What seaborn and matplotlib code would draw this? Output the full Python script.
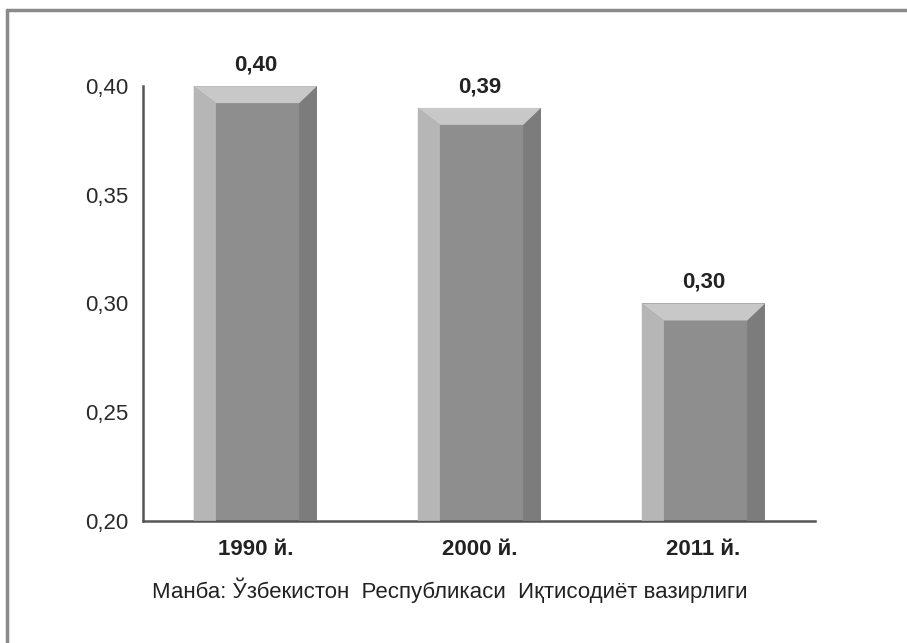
import matplotlib
matplotlib.use("Agg")
import matplotlib.pyplot as plt
import seaborn as sns
import pandas as pd
from matplotlib.patches import Polygon
from matplotlib.lines import Line2D
from matplotlib.ticker import FuncFormatter

years = ["1990 й.", "2000 й.", "2011 й."]
values = [0.40, 0.39, 0.30]
value_labels = ["0,40", "0,39", "0,30"]
yticks = [0.20, 0.25, 0.30, 0.35, 0.40]
source = "Манба: Ўзбекистон  Республикаси  Иқтисодиёт вазирлиги"

sns.set_style("white")
plt.rcParams["font.family"] = ["Liberation Sans", "DejaVu Sans"]

df = pd.DataFrame({"year": years, "value": values})

fig = plt.figure(figsize=(9.07, 6.43), dpi=100)
ax = fig.add_axes([0.158, 0.190, 0.741, 0.676])

sns.barplot(data=df, x="year", y="value", color="#8e8e8e", width=0.55,
            saturation=1, ax=ax, linewidth=0)

ax.set_ylim(0.20, 0.40)
ax.set_xlim(-0.5, 2.5)

# bevel edges drawn from each bar's own geometry
for bar, lab in zip(ax.patches, value_labels):
    x0, w = bar.get_x(), bar.get_width()
    y0, y1 = 0.20, bar.get_y() + bar.get_height()
    dx = w * 0.18
    dy = 0.0078
    ax.add_patch(Polygon([(x0, y0), (x0, y1), (x0 + dx, y1 - dy), (x0 + dx, y0)],
                         closed=True, facecolor="#b6b6b6", edgecolor="none", zorder=3))
    ax.add_patch(Polygon([(x0 + w, y0), (x0 + w, y1), (x0 + w - dx * 0.8, y1 - dy),
                          (x0 + w - dx * 0.8, y0)],
                         closed=True, facecolor="#7c7c7c", edgecolor="none", zorder=3))
    ax.add_patch(Polygon([(x0, y1), (x0 + w, y1), (x0 + w - dx * 0.8, y1 - dy),
                          (x0 + dx, y1 - dy)],
                         closed=True, facecolor="#c8c8c8", edgecolor="none", zorder=3))
    ax.text(x0 + w / 2, y1 + 0.005, lab, ha="center", va="bottom",
            fontsize=16, fontweight="bold", color="#222222", clip_on=False)

ax.set_yticks(yticks)
ax.yaxis.set_major_formatter(FuncFormatter(lambda v, p: f"{v:.2f}".replace(".", ",")))
ax.set_xticks([0, 1, 2])
ax.set_xticklabels(years, fontsize=16, fontweight="bold", color="#222222")
ax.set_xticks([-0.5, 0.5, 1.5, 2.5], minor=True)
ax.tick_params(axis="x", which="major", length=0, pad=13)
ax.tick_params(axis="x", which="minor", length=7, width=1.5, color="#555555", direction="out")
ax.tick_params(axis="y", length=7, width=1.5, color="#555555", labelsize=16,
               labelcolor="#2a2a2a", direction="out", pad=4)

ax.set_xlabel("")
ax.set_ylabel("")
sns.despine(ax=ax)
for s in ["left", "bottom"]:
    ax.spines[s].set_color("#555555")
    ax.spines[s].set_linewidth(1.8)

fig.text(0.496, 0.082, source, ha="center", va="center", fontsize=16, color="#222222")

# page frame: top and left only
fig.add_artist(Line2D([0.008, 1.0], [0.985, 0.985], transform=fig.transFigure,
                      color="#8a8a8a", linewidth=2.5))
fig.add_artist(Line2D([0.008, 0.008], [0.0, 0.985], transform=fig.transFigure,
                      color="#8a8a8a", linewidth=2.5))

fig.savefig("out.png", dpi=100)
